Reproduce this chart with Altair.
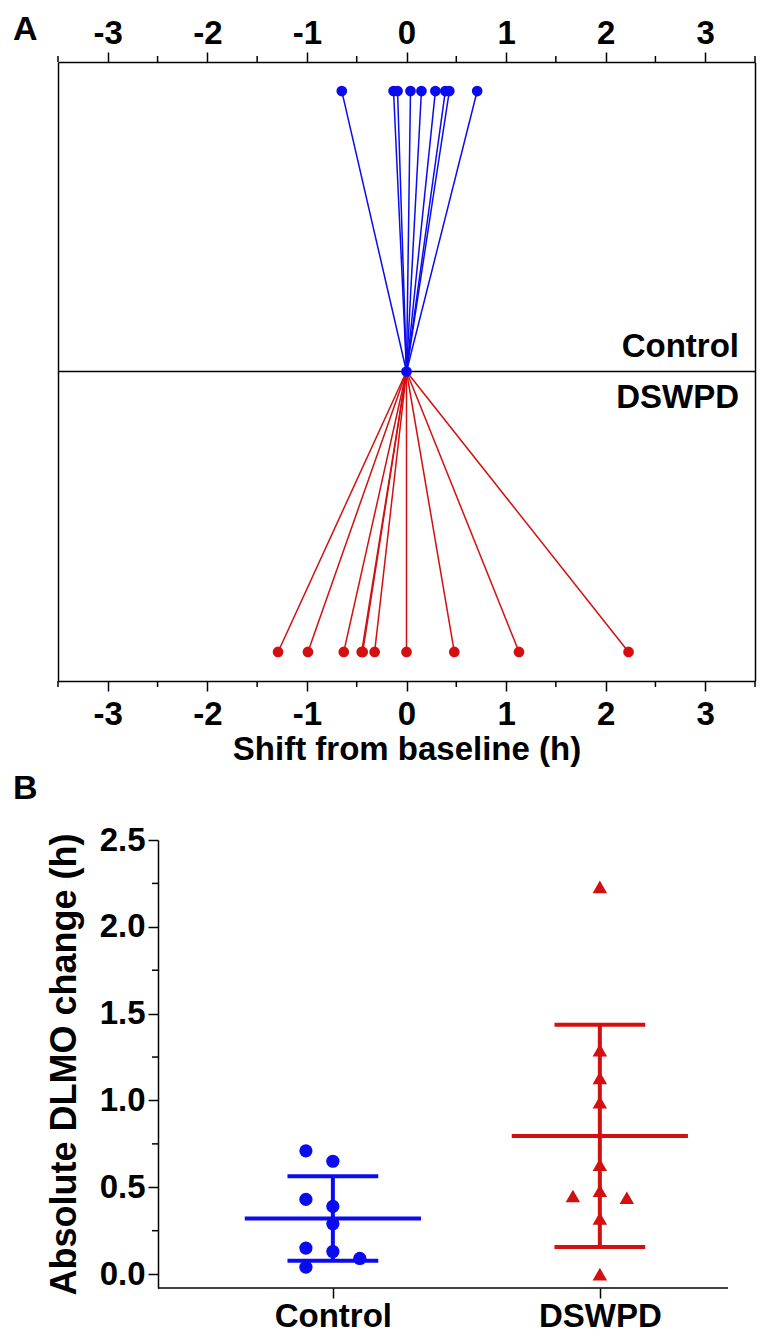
import altair as alt
import pandas as pd

# ---------------- data ----------------
groups = ["Control", "DSWPD"]
colors = ["#0b0bf0", "#d30f0f"]

# Panel A: individual shift from baseline (h)
control_shift = [-0.65, -0.13, -0.09, 0.04, 0.15, 0.29, 0.39, 0.43, 0.71]
dswpd_shift = [-1.29, -0.99, -0.63, -0.45, -0.44, -0.32, 0.00, 0.48, 1.13, 2.23]

# Panel B: absolute DLMO change (h) and scatter column (-1 left, 0 centre, 1 right)
control_abs = [0.71, 0.65, 0.43, 0.39, 0.29, 0.15, 0.13, 0.09, 0.04]
control_col = [-1, 0, -1, 0, 0, -1, 0, 1, -1]
dswpd_abs = [2.23, 1.29, 1.13, 0.99, 0.63, 0.48, 0.45, 0.44, 0.32, 0.00]
dswpd_col = [0, 0, 0, 0, 0, 0, -1, 1, 0, 0]

x_major = [-3, -2, -1, 0, 1, 2, 3]
x_minor = [-3.5, -2.5, -1.5, -0.5, 0.5, 1.5, 2.5, 3.5]
y_major = [0, 0.5, 1, 1.5, 2, 2.5]
y_minor = [0.25, 0.75, 1.25, 1.75, 2.25]

FONT = "Liberation Sans"
FS = 33
TICK = 10
MINOR = 6


def base_axis(**kw):
    d = dict(grid=False, domainColor="black", domainWidth=1.5, tickColor="black",
             tickWidth=1.5, labelFont=FONT, labelFontSize=FS, labelFontWeight="bold",
             labelColor="black", titleFont=FONT, titleFontSize=FS,
             titleFontWeight="bold", titleColor="black")
    d.update(kw)
    return alt.Axis(**d)


color = alt.Color("group:N", scale=alt.Scale(domain=groups, range=colors), legend=None)

# ---------------- panel A ----------------
W1, H1 = 697, 619
xs = alt.Scale(domain=[-3.5, 3.5], nice=False, zero=False)
ys = alt.Scale(domain=[-1.1036, 1.1036], nice=False, zero=False)

line_rows, pt_rows = [], []
for g, vals, row in [(groups[0], control_shift, 1), (groups[1], dswpd_shift, -1)]:
    for v in vals:
        line_rows.append({"group": g, "x0": 0, "y0": 0, "x": v, "y": row})
        pt_rows.append({"group": g, "x": v, "y": row})
pt_rows.append({"group": groups[0], "x": 0, "y": 0})
lines_df = pd.DataFrame(line_rows)
pts_df = pd.DataFrame(pt_rows)

ax_bottom = base_axis(orient="bottom", values=x_major, labelExpr="datum.value + ''",
                      tickSize=TICK, labelPadding=7, title="Shift from baseline (h)",
                      titlePadding=2)
ax_top = base_axis(orient="top", values=x_major, labelExpr="datum.value + ''",
                   tickSize=TICK, labelPadding=2, title=None)
ax_left = base_axis(orient="left", ticks=False, labels=False, title=None)
ax_right = base_axis(orient="right", ticks=False, labels=False, title=None)

center = alt.Chart(pd.DataFrame({"y": [0]})).mark_rule(color="black", strokeWidth=1.5).encode(
    y=alt.Y("y:Q", scale=ys, axis=None))

lines = alt.Chart(lines_df).mark_rule(strokeWidth=1.5).encode(
    x=alt.X("x0:Q", scale=xs, axis=ax_bottom), x2="x:Q",
    y=alt.Y("y0:Q", scale=ys, axis=ax_left), y2="y:Q", color=color)

pts = alt.Chart(pts_df).mark_circle(size=115, opacity=1).encode(
    x=alt.X("x:Q", scale=xs, axis=ax_top), y=alt.Y("y:Q", scale=ys, axis=ax_right),
    color=color)

lab_df = pd.DataFrame({"group": groups, "x": [3.5, 3.5], "y": [0, 0]})
lab_c = alt.Chart(lab_df).transform_filter(f"datum.group == '{groups[0]}'").mark_text(
    align="right", baseline="alphabetic", dx=-16, dy=-15, font=FONT, fontSize=FS,
    fontWeight="bold", color="black").encode(
    x=alt.X("x:Q", scale=xs, axis=None), y=alt.Y("y:Q", scale=ys, axis=None), text="group:N")
lab_d = alt.Chart(lab_df).transform_filter(f"datum.group == '{groups[1]}'").mark_text(
    align="right", baseline="alphabetic", dx=-16, dy=36, font=FONT, fontSize=FS,
    fontWeight="bold", color="black").encode(
    x=alt.X("x:Q", scale=xs, axis=None), y=alt.Y("y:Q", scale=ys, axis=None), text="group:N")

minor_x_df = pd.DataFrame({"v": x_minor})
mb = alt.Chart(minor_x_df).mark_rule(color="black", strokeWidth=1.5).encode(
    x=alt.X("v:Q", scale=xs, axis=None), y=alt.value(H1), y2=alt.value(H1 + MINOR))
mt = alt.Chart(minor_x_df).mark_rule(color="black", strokeWidth=1.5).encode(
    x=alt.X("v:Q", scale=xs, axis=None), y=alt.value(0), y2=alt.value(-MINOR))

top = alt.layer(center, lines, pts, lab_c, lab_d, mb, mt).resolve_axis(
    x="independent", y="independent").properties(
    width=W1, height=H1,
    title=alt.TitleParams("A", anchor="start", frame="group", dx=-45, offset=-30,
                          fontSize=34, font=FONT, fontWeight="bold", color="black"))

# ---------------- panel B ----------------
# the panel shares the left edge of panel A; its y axis sits AXIS_IN px inside
AXIS_IN = 100
W2, H2 = 670, 448
X_AXIS_START, X_AXIS_END = 0.345, 2.48
x_left = X_AXIS_START - (X_AXIS_END - X_AXIS_START) * AXIS_IN / (W2 - AXIS_IN)
xsB = alt.Scale(domain=[x_left, X_AXIS_END], nice=False, zero=False)
ysB = alt.Scale(domain=[-0.08, 2.5], nice=False, zero=False)

b_rows = []
for gi, (g, vals, cols) in enumerate([(groups[0], control_abs, control_col),
                                       (groups[1], dswpd_abs, dswpd_col)]):
    for v, c in zip(vals, cols):
        b_rows.append({"group": g, "gx": gi + 1, "value": v, "col": c})
b_df = pd.DataFrame(b_rows)

axBx = base_axis(orient="bottom", values=[1, 2], domain=False,
                 labelExpr=f"datum.value == 1 ? '{groups[0]}' : '{groups[1]}'",
                 tickSize=TICK, labelPadding=2, title=None)
axBy = base_axis(orient="left", values=y_major, format=".1f", tickSize=TICK, offset=-AXIS_IN,
                 labelPadding=3, title="Absolute DLMO change (h)", titleFontSize=36,
                 titlePadding=16)

ptsB = alt.Chart(b_df).transform_calculate(xj="datum.gx + datum.col * 0.101").mark_point(
    filled=True, opacity=1).encode(
    x=alt.X("xj:Q", scale=xsB, axis=axBx),
    y=alt.Y("value:Q", scale=ysB, axis=axBy),
    color=color,
    shape=alt.Shape("group:N", scale=alt.Scale(domain=groups, range=["circle", "triangle-up"]),
                    legend=None),
    size=alt.Size("group:N", scale=alt.Scale(domain=groups, range=[175, 210]), legend=None))

stats = alt.Chart(b_df).transform_aggregate(
    m="mean(value)", s="stdev(value)", groupby=["group", "gx"]).transform_calculate(
    lo="datum.m - datum.s", hi="datum.m + datum.s",
    ml="datum.gx - 0.33", mr="datum.gx + 0.33",
    cl="datum.gx - 0.17", cr="datum.gx + 0.17")

mean_rule = stats.mark_rule(strokeWidth=4).encode(
    x=alt.X("ml:Q", scale=xsB, axis=None), x2="mr:Q",
    y=alt.Y("m:Q", scale=ysB, axis=None), color=color)
hi_rule = stats.mark_rule(strokeWidth=4).encode(
    x=alt.X("cl:Q", scale=xsB, axis=None), x2="cr:Q",
    y=alt.Y("hi:Q", scale=ysB, axis=None), color=color)
lo_rule = stats.mark_rule(strokeWidth=4).encode(
    x=alt.X("cl:Q", scale=xsB, axis=None), x2="cr:Q",
    y=alt.Y("lo:Q", scale=ysB, axis=None), color=color)
vert = stats.mark_rule(strokeWidth=4).encode(
    x=alt.X("gx:Q", scale=xsB, axis=None),
    y=alt.Y("lo:Q", scale=ysB, axis=None), y2="hi:Q", color=color)

minor_y = alt.Chart(pd.DataFrame({"v": y_minor})).mark_rule(color="black", strokeWidth=1.5).encode(
    y=alt.Y("v:Q", scale=ysB, axis=None), x=alt.value(AXIS_IN - MINOR), x2=alt.value(AXIS_IN))

x_axis_line = alt.Chart(pd.DataFrame({"a": [X_AXIS_START], "b": [X_AXIS_END]})).mark_rule(
    color="black", strokeWidth=1.5).encode(
    x=alt.X("a:Q", scale=xsB, axis=None), x2="b:Q", y=alt.value(H2))

bottom = alt.layer(ptsB, vert, mean_rule, hi_rule, lo_rule, minor_y, x_axis_line).resolve_axis(
    x="independent", y="independent").properties(
    width=W2, height=H2,
    title=alt.TitleParams("B", anchor="start", frame="group", dx=-45, offset=18,
                          fontSize=34, font=FONT, fontWeight="bold", color="black"))

chart = alt.vconcat(top, bottom, spacing=6).configure_view(stroke=None)

chart.save("out.html", embed_options={"renderer": "svg", "actions": False})
